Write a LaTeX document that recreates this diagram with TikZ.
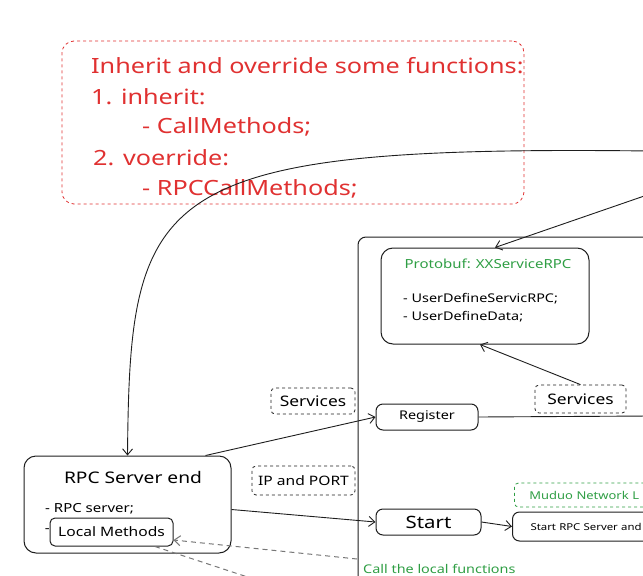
\documentclass[tikz,border=0pt]{standalone}
\usepackage{fontspec}
\setmainfont{Noto Sans}[FakeStretch=1.2]
\usetikzlibrary{arrows.meta,positioning,calc,shapes}

\definecolor{notered}{HTML}{E03131}
\definecolor{titlegreen}{HTML}{2F9E44}
\definecolor{inkblack}{HTML}{1E1E1E}
\definecolor{dashgray}{HTML}{777777}

\newcommand{\fsz}[1]{\fontsize{#1}{#1}\selectfont}

\tikzset{
  box/.style={draw=inkblack, line width=1pt, rounded corners=7pt, inner sep=0pt},
  tagbox/.style={draw=inkblack, dashed, line width=0.8pt, rounded corners=4pt, inner sep=0pt},
  notetext/.style={text=notered, font=\fsz{21}, anchor=base west, inner sep=0pt},
  conn/.style={draw=inkblack, line width=0.9pt, -{Straight Barb[length=6pt,width=10pt]}},
  callconn/.style={draw=dashgray, line width=1pt, dash pattern=on 5pt off 4pt},
}

\begin{document}
\begin{tikzpicture}[x=1pt,y=-1pt]
\useasboundingbox (0,0) rectangle (643,576);
\clip (0,0) rectangle (643,576);

% Note on inheritance
\node[draw=notered, dashed, line width=0.8pt, rounded corners=12pt,
      minimum width=462pt, minimum height=163pt] (note) at (293,122.5) {};
\node[notetext] (noteHead) at (91,73) {Inherit and override some functions:};
\node[notetext] (noteOne) at (91,104) {1. inherit:};
\node[notetext] (noteCall) at (142,133) {- CallMethods;};
\node[notetext] (noteTwo) at (93,165) {2. voerride:};
\node[notetext] (noteRpc) at (142,195) {- RPCCallMethods;};

% Server side container
\draw[box, rounded corners=8pt] (358,700) |- (700,237);

% Protobuf definitions
\node[box, rounded corners=12pt, minimum width=208pt, minimum height=96pt] (pb) at (485,296) {};
\node[text=titlegreen, font=\fsz{12.5}] (pbTitle) at (488,264) {Protobuf: XXServiceRPC};
\node[font=\fsz{12}, anchor=base west, inner sep=0pt] (pbSvc) at (403,302) {- UserDefineServicRPC;};
\node[font=\fsz{12}, anchor=base west, inner sep=0pt] (pbData) at (403,320) {- UserDefineData;};

% Register and Start
\node[box, minimum width=102pt, minimum height=26pt, font=\fsz{12}] (reg) at (427,417) {Register};
\node[box, minimum width=105pt, minimum height=26pt, font=\fsz{17}] (start) at (428.5,522) {Start};
\node[box, anchor=west, minimum height=29pt, text width=170pt, align=left,
      inner xsep=18pt, font=\fsz{9.5}] (startRpc) at (512,526.5) {Start RPC Server and};
\node[tagbox, draw=titlegreen, anchor=west, minimum height=24pt, text width=170pt, align=left,
      inner xsep=15pt, text=titlegreen, font=\fsz{10.8}] (muduo) at (514,495) {Muduo Network L};

% Labels on connectors
\node[tagbox, minimum width=84pt, minimum height=26pt, font=\fsz{14.5}] (servL) at (313,401) {Services};
\node[tagbox, minimum width=91pt, minimum height=28pt, font=\fsz{14.5}] (servR) at (580.5,399) {Services};
\node[tagbox, minimum width=103pt, minimum height=29pt, font=\fsz{13}] (ipPort) at (303.5,480.5) {IP and PORT};

% RPC server end
\node[box, rounded corners=12pt, minimum width=207pt, minimum height=97pt] (rpc) at (127.5,504.5) {};
\node[font=\fsz{16}] (rpcTitle) at (133,477) {RPC Server end};
\node[font=\fsz{12.5}, anchor=base west, inner sep=0pt] (rpcSrv) at (45,512) {- RPC server;};
\node[font=\fsz{12.5}, anchor=east, inner sep=0pt] (rpcDash) at (50,531) {-};
\node[box, rounded corners=5pt, minimum width=123pt, minimum height=28pt, font=\fsz{13}] (local) at (111.5,532) {Local Methods};

% Ends outside the picture
\coordinate (curveR) at (650,151);
\coordinate (pbR) at (650,194);
\coordinate (regR) at (650,416);
\coordinate (callSrc) at (357,559);
\coordinate (callOut) at (281,588);

% Connectors
\draw[conn] (curveR) .. controls (150,145) and (130,190) .. (rpc.north);
\draw[conn] (pbR) -- ([xshift=10pt]pb.north);
\draw[conn] (servR.north) -- ([xshift=-5pt]pb.south);
\draw[draw=inkblack, line width=0.9pt] (reg.east) -- (regR);
\draw[conn] ($(rpc.north)!0.75!(rpc.north east)$) -- (reg.west);
\draw[conn] ([yshift=-5pt]rpc.east) -- (start.west);
\draw[conn] (start.east) -- (startRpc.west);

% Local calls
\draw[callconn, -{Straight Barb[length=6pt,width=10pt]}] (callSrc) -- ([yshift=-8pt]local.east);
\draw[callconn] ($(local.south)!0.7!(local.south east)$) -- (callOut);
\node[text=titlegreen, font=\fsz{12}, anchor=base west, inner sep=0pt] (callLbl) at (363,573) {Call the local functions};
\end{tikzpicture}
\end{document}
